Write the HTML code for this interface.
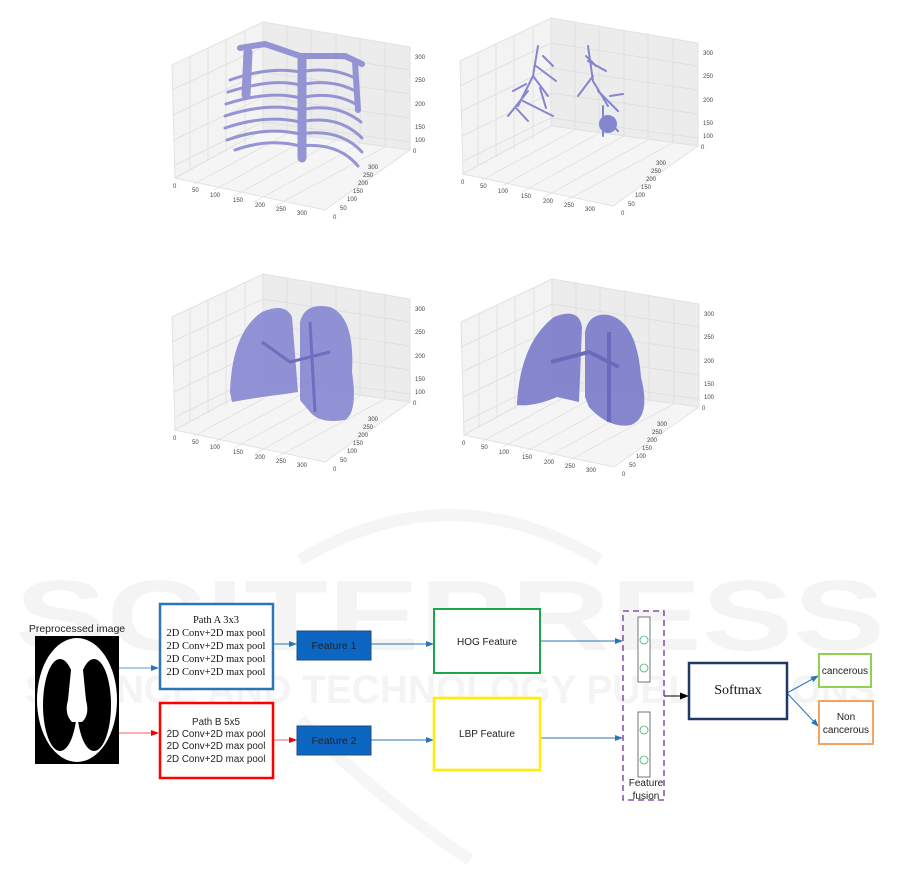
<!DOCTYPE html>
<html><head><meta charset="utf-8"><style>
html,body{margin:0;padding:0;background:#fff;}
svg{display:block;}
.t{font-family:"Liberation Sans",sans-serif;font-size:6px;fill:#444;}
.s{font-family:"Liberation Sans",sans-serif;fill:#222;}
.r{font-family:"Liberation Serif",serif;fill:#111;}
</style></head><body>
<svg width="901" height="887" viewBox="0 0 901 887" xmlns="http://www.w3.org/2000/svg">
<rect width="901" height="887" fill="#fff"/>
<!-- watermark -->
<g fill="#f4f4f4" font-family="Liberation Sans,sans-serif" font-weight="bold">
<text x="450" y="650" font-size="100" text-anchor="middle" textLength="870" lengthAdjust="spacingAndGlyphs">SCITEPRESS</text>
<text x="450" y="703" font-size="40" text-anchor="middle" textLength="850" lengthAdjust="spacingAndGlyphs">SCIENCE AND TECHNOLOGY PUBLICATIONS</text>
</g>
<path d="M300 560 Q450 470 600 560" stroke="#f5f5f5" stroke-width="12" fill="none"/>
<path d="M300 720 Q380 800 470 860" stroke="#f6f6f6" stroke-width="12" fill="none"/>

<g id="p1">
<polygon points="172,65 263,22 263,130 175,178" fill="#f3f3f3" stroke="#e2e2e2"/>
<polygon points="263,22 410,47 410,150 263,130" fill="#ececec" stroke="#e2e2e2"/>
<polygon points="175,178 263,130 410,150 325,210" fill="#f5f5f5" stroke="#e2e2e2"/>
<g stroke="#dcdcdc" stroke-width="0.7" fill="none">
<path d="M190 57V170M208 48V161M226 40V153M245 31V144M287 26V133M311 30V136M336 34V140M360 38V143M385 43V147M172 90L263 47L410 70M173 115L263 72L410 94M174 140L263 97L410 118M175 165L263 122L410 142M194 184L287 134M214 190L311 137M234 196L336 140M254 202L360 144M275 206L385 147"/>
</g>
<g class="t"><text x="415" y="59">300</text><text x="415" y="82">250</text><text x="415" y="106">200</text><text x="415" y="129">150</text><text x="415" y="142">100</text><text x="413" y="153">0</text>
<text x="173" y="188">0</text><text x="192" y="192">50</text><text x="210" y="197">100</text><text x="233" y="202">150</text><text x="255" y="207">200</text><text x="276" y="211">250</text><text x="297" y="215">300</text>
<text x="333" y="219">0</text><text x="340" y="210">50</text><text x="347" y="201">100</text><text x="353" y="193">150</text><text x="358" y="185">200</text><text x="363" y="177">250</text><text x="368" y="169">300</text></g>
</g>
<!-- ribcage -->
<g stroke="#8585d0" fill="none" stroke-linecap="round" opacity="0.85">
<path d="M240 48 L265 44 L300 56 L345 56 L362 64" stroke-width="6"/>
<path d="M248 52 L246 95" stroke-width="9"/>
<path d="M355 62 L358 110" stroke-width="6"/>
<path d="M230 80 Q270 66 300 72 Q330 66 355 78" stroke-width="3"/>
<path d="M228 92 Q272 78 300 85 Q332 78 357 92" stroke-width="3"/>
<path d="M226 104 Q270 90 300 98 Q334 90 359 106" stroke-width="3"/>
<path d="M225 116 Q268 102 300 110 Q336 102 361 122" stroke-width="3"/>
<path d="M225 128 Q266 114 300 122 Q338 114 362 138" stroke-width="3"/>
<path d="M227 140 Q266 126 300 134 Q340 128 362 152" stroke-width="3"/>
<path d="M235 150 Q268 138 300 146 Q338 142 358 166" stroke-width="3"/>
<path d="M302 58 L302 158" stroke-width="9"/>
</g>

<g transform="translate(288,-4)">
<polygon points="172,65 263,22 263,130 175,178" fill="#f3f3f3" stroke="#e2e2e2"/>
<polygon points="263,22 410,47 410,150 263,130" fill="#ececec" stroke="#e2e2e2"/>
<polygon points="175,178 263,130 410,150 325,210" fill="#f5f5f5" stroke="#e2e2e2"/>
<g stroke="#dcdcdc" stroke-width="0.7" fill="none">
<path d="M190 57V170M208 48V161M226 40V153M245 31V144M287 26V133M311 30V136M336 34V140M360 38V143M385 43V147M172 90L263 47L410 70M173 115L263 72L410 94M174 140L263 97L410 118M175 165L263 122L410 142M194 184L287 134M214 190L311 137M234 196L336 140M254 202L360 144M275 206L385 147"/>
</g>
<g class="t"><text x="415" y="59">300</text><text x="415" y="82">250</text><text x="415" y="106">200</text><text x="415" y="129">150</text><text x="415" y="142">100</text><text x="413" y="153">0</text>
<text x="173" y="188">0</text><text x="192" y="192">50</text><text x="210" y="197">100</text><text x="233" y="202">150</text><text x="255" y="207">200</text><text x="276" y="211">250</text><text x="297" y="215">300</text>
<text x="333" y="219">0</text><text x="340" y="210">50</text><text x="347" y="201">100</text><text x="353" y="193">150</text><text x="358" y="185">200</text><text x="363" y="177">250</text><text x="368" y="169">300</text></g>
<g stroke="#8585d0" fill="none" stroke-width="2" stroke-linecap="round">
<path d="M250 50 L245 80 L230 110 M245 80 L260 100 M240 95 L220 120 M248 70 L268 85 M235 105 L265 120 M255 60 L265 70 M238 88 L225 95 M252 92 L258 112 M228 112 L240 125"/>
<path d="M300 50 L305 85 L320 110 M305 80 L290 100 M310 95 L330 115 M300 65 L318 75 M315 110 L315 140 M320 125 L330 135 M308 70 L298 60 M322 100 L335 98"/>
<ellipse cx="320" cy="128" rx="9" ry="9" fill="#8585d0" stroke="none"/>
</g>
</g>

<g transform="translate(0,252)">
<polygon points="172,65 263,22 263,130 175,178" fill="#f3f3f3" stroke="#e2e2e2"/>
<polygon points="263,22 410,47 410,150 263,130" fill="#ececec" stroke="#e2e2e2"/>
<polygon points="175,178 263,130 410,150 325,210" fill="#f5f5f5" stroke="#e2e2e2"/>
<g stroke="#dcdcdc" stroke-width="0.7" fill="none">
<path d="M190 57V170M208 48V161M226 40V153M245 31V144M287 26V133M311 30V136M336 34V140M360 38V143M385 43V147M172 90L263 47L410 70M173 115L263 72L410 94M174 140L263 97L410 118M175 165L263 122L410 142M194 184L287 134M214 190L311 137M234 196L336 140M254 202L360 144M275 206L385 147"/>
</g>
<g class="t"><text x="415" y="59">300</text><text x="415" y="82">250</text><text x="415" y="106">200</text><text x="415" y="129">150</text><text x="415" y="142">100</text><text x="413" y="153">0</text>
<text x="173" y="188">0</text><text x="192" y="192">50</text><text x="210" y="197">100</text><text x="233" y="202">150</text><text x="255" y="207">200</text><text x="276" y="211">250</text><text x="297" y="215">300</text>
<text x="333" y="219">0</text><text x="340" y="210">50</text><text x="347" y="201">100</text><text x="353" y="193">150</text><text x="358" y="185">200</text><text x="363" y="177">250</text><text x="368" y="169">300</text></g>
<path d="M230 140 Q232 80 262 60 Q285 50 292 65 L298 140 L285 142 Q260 145 232 150 Z" fill="#8686d2" opacity="0.9"/>
<path d="M300 70 Q305 50 330 55 Q355 65 352 120 Q358 160 345 168 Q320 172 310 160 L300 148 Z" fill="#8686d2" opacity="0.9"/>
<path d="M262 90 L290 110 L330 100 M310 70 L315 160" stroke="#6e6ec0" stroke-width="3" fill="none"/>
</g>

<g transform="translate(289,257)">
<polygon points="172,65 263,22 263,130 175,178" fill="#f3f3f3" stroke="#e2e2e2"/>
<polygon points="263,22 410,47 410,150 263,130" fill="#ececec" stroke="#e2e2e2"/>
<polygon points="175,178 263,130 410,150 325,210" fill="#f5f5f5" stroke="#e2e2e2"/>
<g stroke="#dcdcdc" stroke-width="0.7" fill="none">
<path d="M190 57V170M208 48V161M226 40V153M245 31V144M287 26V133M311 30V136M336 34V140M360 38V143M385 43V147M172 90L263 47L410 70M173 115L263 72L410 94M174 140L263 97L410 118M175 165L263 122L410 142M194 184L287 134M214 190L311 137M234 196L336 140M254 202L360 144M275 206L385 147"/>
</g>
<g class="t"><text x="415" y="59">300</text><text x="415" y="82">250</text><text x="415" y="106">200</text><text x="415" y="129">150</text><text x="415" y="142">100</text><text x="413" y="153">0</text>
<text x="173" y="188">0</text><text x="192" y="192">50</text><text x="210" y="197">100</text><text x="233" y="202">150</text><text x="255" y="207">200</text><text x="276" y="211">250</text><text x="297" y="215">300</text>
<text x="333" y="219">0</text><text x="340" y="210">50</text><text x="347" y="201">100</text><text x="353" y="193">150</text><text x="358" y="185">200</text><text x="363" y="177">250</text><text x="368" y="169">300</text></g>
<path d="M228 145 Q232 85 265 60 Q290 50 293 70 L290 145 L268 140 Q245 150 228 148 Z" fill="#8080cc" opacity="0.95"/>
<path d="M296 75 Q300 55 320 58 Q348 65 352 120 Q362 160 342 168 Q320 172 300 150 L296 140 Z" fill="#8080cc" opacity="0.95"/>
<path d="M262 105 L300 95 L330 110 M320 75 L320 165" stroke="#6a6abd" stroke-width="4" fill="none"/>
</g>

<!-- Bottom diagram -->
<text x="77" y="632" class="s" font-size="10.5" text-anchor="middle">Preprocessed image</text>
<rect x="35" y="636" width="84" height="128" fill="#000"/>
<ellipse cx="77" cy="700" rx="40" ry="62" fill="#fff"/>
<ellipse cx="60" cy="705" rx="17" ry="46" fill="#000"/>
<ellipse cx="94" cy="705" rx="17" ry="46" fill="#000"/>
<path d="M72 660 Q77 654 82 660 L86 700 Q90 715 82 722 L72 722 Q64 714 68 700 Z" fill="#fff"/>

<defs>
<marker id="ab" markerWidth="8" markerHeight="8" refX="7" refY="4" orient="auto" markerUnits="userSpaceOnUse"><path d="M0 1L8 4L0 7Z" fill="#2e75b6"/></marker>
<marker id="ar" markerWidth="8" markerHeight="8" refX="7" refY="4" orient="auto" markerUnits="userSpaceOnUse"><path d="M0 1L8 4L0 7Z" fill="#e00"/></marker>
<marker id="ak" markerWidth="9" markerHeight="9" refX="8" refY="4.5" orient="auto" markerUnits="userSpaceOnUse"><path d="M0 1L9 4.5L0 8Z" fill="#000"/></marker>
</defs>
<g stroke-width="1">
<line x1="119" y1="668" x2="158" y2="668" stroke="#5b9bd5" marker-end="url(#ab)"/>
<line x1="119" y1="733" x2="158" y2="733" stroke="#f06060" marker-end="url(#ar)"/>
<line x1="273" y1="644" x2="296" y2="644" stroke="#2e75b6" marker-end="url(#ab)"/>
<line x1="273" y1="740" x2="296" y2="740" stroke="#f06060" marker-end="url(#ar)"/>
<line x1="371" y1="644" x2="433" y2="644" stroke="#2e75b6" marker-end="url(#ab)"/>
<line x1="371" y1="740" x2="433" y2="740" stroke="#2e75b6" marker-end="url(#ab)"/>
<line x1="540" y1="641" x2="622" y2="641" stroke="#2e75b6" marker-end="url(#ab)"/>
<line x1="540" y1="738" x2="622" y2="738" stroke="#2e75b6" marker-end="url(#ab)"/>
<line x1="664" y1="696" x2="688" y2="696" stroke="#000" marker-end="url(#ak)"/>
<line x1="787" y1="693" x2="818" y2="676" stroke="#2e75b6" marker-end="url(#ab)"/>
<line x1="787" y1="693" x2="818" y2="726" stroke="#2e75b6" marker-end="url(#ab)"/>
</g>
<rect x="160" y="604" width="113" height="85" fill="#fff" stroke="#2e75b6" stroke-width="2.5"/>
<g class="r" font-size="10.5" text-anchor="middle">
<text x="216" y="623">Path A 3x3</text><text x="216" y="636">2D Conv+2D max pool</text><text x="216" y="649">2D Conv+2D max pool</text><text x="216" y="662">2D Conv+2D max pool</text><text x="216" y="675">2D Conv+2D max pool</text></g>
<rect x="160" y="703" width="113" height="75" fill="#fff" stroke="#f00" stroke-width="2.5"/>
<g class="s" font-size="9.8" text-anchor="middle">
<text x="216" y="725">Path B 5x5</text><text x="216" y="737">2D Conv+2D max pool</text><text x="216" y="749">2D Conv+2D max pool</text><text x="216" y="762">2D Conv+2D max pool</text></g>
<rect x="297" y="631" width="74" height="29" fill="#0d66c2" stroke="#1f4e79"/>
<text x="334" y="649" class="s" font-size="10.5" text-anchor="middle">Feature 1</text>
<rect x="297" y="726" width="74" height="29" fill="#0d66c2" stroke="#1f4e79"/>
<text x="334" y="744" class="s" font-size="10.5" text-anchor="middle">Feature 2</text>
<rect x="434" y="609" width="106" height="64" fill="#fff" stroke="#1aa64a" stroke-width="2"/>
<text x="487" y="645" class="s" font-size="10" text-anchor="middle">HOG Feature</text>
<rect x="434" y="698" width="106" height="72" fill="#fff" stroke="#ffee00" stroke-width="2.5"/>
<text x="487" y="737" class="s" font-size="10" text-anchor="middle">LBP Feature</text>
<rect x="623" y="611" width="41" height="189" fill="none" stroke="#7030a0" stroke-width="1.3" stroke-dasharray="6,4"/>
<rect x="638" y="617" width="12" height="65" fill="#fff" stroke="#555" stroke-width="0.8"/>
<rect x="638" y="712" width="12" height="65" fill="#fff" stroke="#555" stroke-width="0.8"/>
<g fill="none" stroke="#3cb371" stroke-width="0.8"><circle cx="644" cy="640" r="4"/><circle cx="644" cy="668" r="4"/><circle cx="644" cy="730" r="4"/><circle cx="644" cy="760" r="4"/></g>
<text x="646" y="786" class="s" font-size="10" text-anchor="middle">Feature</text>
<text x="646" y="799" class="s" font-size="10" text-anchor="middle">fusion</text>
<rect x="689" y="663" width="98" height="56" fill="#fff" stroke="#1f3864" stroke-width="2.5"/>
<text x="738" y="694" class="r" font-size="14" text-anchor="middle">Softmax</text>
<rect x="819" y="654" width="52" height="33" fill="#fff" stroke="#92d050" stroke-width="2"/>
<text x="845" y="674" class="s" font-size="10" text-anchor="middle">cancerous</text>
<rect x="819" y="701" width="54" height="43" fill="#fff" stroke="#f4a460" stroke-width="2"/>
<text x="846" y="720" class="s" font-size="10" text-anchor="middle">Non</text>
<text x="846" y="733" class="s" font-size="10" text-anchor="middle">cancerous</text>
</svg>
</body></html>
